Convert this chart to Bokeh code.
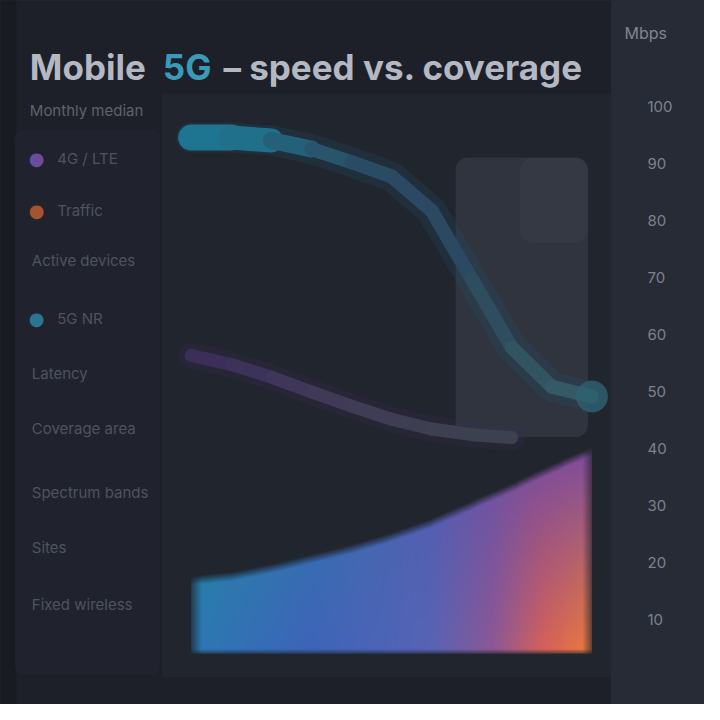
import numpy as np
from bokeh.plotting import figure
from bokeh.layouts import row
from bokeh.models import Range1d, FixedTicker, Label, BoxAnnotation, Title
from bokeh.embed import file_html
from bokeh.resources import INLINE

# ---------------- data ----------------
months = [0, 1, 2, 3, 4, 5, 6, 7, 8, 9, 10]
speed_5g = [94.5, 94.5, 94.0, 92.5, 90.2, 87.7, 81.7, 69.7, 57.7, 50.8, 49.1]
months_4g = [0, 1, 2, 3, 4, 5, 6, 7, 8]
speed_4g = [56.3, 54.7, 52.5, 49.9, 47.4, 45.1, 43.4, 42.4, 41.9]
traffic = [17.0, 17.7, 19.1, 20.8, 22.5, 24.6, 27.1, 30.2, 33.3, 36.6, 39.7]
y_ticks = [10, 20, 30, 40, 50, 60, 70, 80, 90, 100]
legend_names = ["4G / LTE", "Traffic", "Active devices", "5G NR", "Latency",
                "Coverage area", "Spectrum bands", "Sites", "Fixed wireless"]
legend_colors = ["#6a4c9c", "#a4542f", None, "#2a7590", None, None, None, None, None]
highlight_x = [6.6, 9.9]
highlight_y = [42.0, 91.0]

title_main = "Mobile"
title_accent = "5G"
title_rest = "– speed vs. coverage"
subtitle = "Monthly median"
unit_label = "Mbps"

# ---------------- layout helpers (reference px -> data) ----------------
K = 704 / 720.0


def px(xr):
    return (xr - 195) / 41.0


def py(yr):
    return 4 + (668 - yr) / 5.832


BG = "#1d2029"
STRIP = "#272b36"


def clean(fig):
    fig.outline_line_color = None
    fig.outline_line_alpha = 0
    fig.outline_line_width = 0
    fig.grid.visible = False
    fig.frame_align = False


def box(**kw):
    return BoxAnnotation(line_color=None, line_alpha=0, line_width=0, level="underlay", **kw)


W_MAIN = round(625 * K)
p = figure(width=W_MAIN, height=704, x_range=Range1d(px(0), px(625)), y_range=Range1d(py(720), py(0)),
           output_backend="svg", toolbar_location=None,
           x_axis_location=None, y_axis_location=None,
           min_border=0, min_border_left=0, min_border_right=0, min_border_top=0, min_border_bottom=0,
           background_fill_color=BG, border_fill_color=BG)
clean(p)

# ---------------- panels ----------------
p.add_layout(box(left=px(-5), right=px(16), top=py(-5), bottom=py(725), fill_color="#181b22", fill_alpha=1))
p.add_layout(box(left=px(165), right=px(640), top=py(95), bottom=py(692), fill_color="#21252e", fill_alpha=1))
p.add_layout(box(left=px(15), right=px(163), top=py(132), bottom=py(690), fill_color="#20232d",
                 fill_alpha=1, border_radius=8))
p.add_layout(box(left=highlight_x[0], right=highlight_x[1], bottom=highlight_y[0], top=highlight_y[1],
                 fill_color="#3d424e", fill_alpha=0.55, border_radius=12))
p.add_layout(box(left=8.2, right=highlight_x[1], bottom=76, top=highlight_y[1],
                 fill_color="#4a4f5b", fill_alpha=0.2, border_radius=14))

# ---------------- gradient area ----------------
X0, X1, Y0 = 0, 10, 4
W, H = 410, 240
img_top = 46.0
gx = np.linspace(X0, X1, W)
gy = np.linspace(Y0, img_top, H)
top = np.interp(gx, months, traffic)
u = (gx - X0) / (X1 - X0)
v = np.clip((gy - Y0) / (max(traffic) - Y0), 0, 1)

bot_u = [0.0, 0.3, 0.6, 0.75, 0.88, 1.0]
bot_c = np.array([[45, 120, 180], [62, 100, 185], [88, 100, 182], [140, 88, 150],
                  [215, 98, 88], [238, 124, 60]], float)
top_u = [0.0, 0.3, 0.6, 0.85, 1.0]
top_c = np.array([[30, 140, 152], [50, 118, 170], [82, 92, 175], [118, 76, 160],
                  [126, 76, 156]], float)
bc = np.stack([np.interp(u, bot_u, bot_c[:, k]) for k in range(3)], -1)
tc = np.stack([np.interp(u, top_u, top_c[:, k]) for k in range(3)], -1)
vv = v[:, None, None]
col = bc[None, :, :] * (1 - vv) + tc[None, :, :] * vv
alpha = np.clip((top[None, :] - gy[:, None]) / 1.6 + 0.35, 0, 1)
alpha *= np.clip((gx[None, :] - X0) / 0.35 + 0.3, 0, 1)
alpha *= np.clip((X1 - gx[None, :]) / 0.35 + 0.3, 0, 1)
alpha *= np.clip((gy[:, None] - Y0) / 1.2 + 0.4, 0, 1)

img = np.empty((H, W), dtype=np.uint32)
view = img.view(dtype=np.uint8).reshape((H, W, 4))
view[:, :, 0:3] = col.astype(np.uint8)
view[:, :, 3] = (alpha * 255).astype(np.uint8)
p.image_rgba(image=[img], x=X0, y=Y0, dw=X1 - X0, dh=img_top - Y0)

# ---------------- 4G line ----------------
seg4_x = [[months_4g[i], months_4g[i + 1]] for i in range(len(months_4g) - 1)]
seg4_y = [[speed_4g[i], speed_4g[i + 1]] for i in range(len(speed_4g) - 1)]
c4 = ["#3b2e58", "#3d3259", "#3f3659", "#403a58", "#3f3c56", "#3e3e53", "#3d4050", "#3c414e"]
p.line(months_4g, speed_4g, line_width=26, line_color="#3a2f55", line_alpha=0.22, line_cap="round")
p.multi_line(xs=seg4_x, ys=seg4_y, line_color=c4, line_width=13, line_alpha=1, line_cap="round")

# ---------------- 5G line ----------------
seg5_x = [[months[i], months[i + 1]] for i in range(len(months) - 1)]
seg5_y = [[speed_5g[i], speed_5g[i + 1]] for i in range(len(speed_5g) - 1)]
c5 = ["#1e7591", "#206f8b", "#25607a", "#28546c", "#2a4b64", "#2b4963", "#2c4962",
      "#2e4e60", "#325460", "#355a66"]
w5 = [26, 24, 17, 14, 14, 14, 14, 14, 14, 14]
p.line(months, speed_5g, line_width=30, line_color="#1e5f78", line_alpha=0.18, line_cap="round")
p.multi_line(xs=seg5_x, ys=seg5_y, line_color=c5, line_width=w5, line_alpha=1, line_cap="round")
p.scatter([months[-1]], [speed_5g[-1]], size=32, fill_color="#2f6070", fill_alpha=0.8, line_color=None)

# ---------------- titles ----------------
TF = "35px"
p.add_layout(Label(x=px(30), y=py(68), text=title_main, text_font="Inter", text_font_style="bold",
                   text_font_size=TF, text_color="#b4b8c2", text_baseline="middle"))
p.add_layout(Label(x=px(166), y=py(68), text=title_accent, text_font="Inter", text_font_style="bold",
                   text_font_size=TF, text_color="#3a9ab8", text_baseline="middle"))
p.add_layout(Label(x=px(228), y=py(68), text=title_rest, text_font="Inter", text_font_style="bold",
                   text_font_size=TF, text_color="#b4b8c2", text_baseline="middle"))
p.add_layout(Label(x=px(30), y=py(113), text=subtitle, text_font="Inter",
                   text_font_size="15px", text_color="#5d626e", text_baseline="middle"))

# ---------------- legend list ----------------
leg_y = [162, 215, 266, 325, 381, 438, 503, 559, 618]
for name, c, yy in zip(legend_names, legend_colors, leg_y):
    if c is not None:
        p.add_layout(Label(x=px(37), y=py(yy), text="●", text_font="DejaVu Sans",
                           text_font_size="18px", text_color=c, text_baseline="middle",
                           text_align="center"))
        tx = 58
    else:
        tx = 32
    p.add_layout(Label(x=px(tx), y=py(yy), text=name, text_font="Inter",
                       text_font_size="15px", text_color="#4e5360", text_baseline="middle"))

# ---------------- right strip: axis + unit title ----------------
W_STRIP = 704 - W_MAIN
TOP_STRIP = 59
s_fig = figure(width=W_STRIP, height=704, x_range=Range1d(0, 1),
               y_range=Range1d(py(720), py(TOP_STRIP / K)),
               output_backend="svg", toolbar_location=None,
               x_axis_location=None, y_axis_location="right",
               min_border=0, min_border_left=0, min_border_right=W_STRIP - 24,
               min_border_top=TOP_STRIP, min_border_bottom=0,
               background_fill_color=STRIP, border_fill_color=STRIP)
clean(s_fig)
s_fig.add_layout(Title(text=unit_label, align="left", offset=13, standoff=33,
                       text_font="Inter", text_font_size="16px", text_font_style="normal",
                       text_color="#80848f"), "above")
ax = s_fig.yaxis[0]
ax.ticker = FixedTicker(ticks=y_ticks)
ax.axis_line_color = None
ax.major_tick_line_color = None
ax.minor_tick_line_color = None
ax.major_label_text_color = "#7d828f"
ax.major_label_text_font = "Inter"
ax.major_label_text_font_size = "15px"
ax.major_label_standoff = 6

layout = row(p, s_fig, spacing=0, styles={"background-color": STRIP})
open("out.html", "w").write(file_html(layout, INLINE))
